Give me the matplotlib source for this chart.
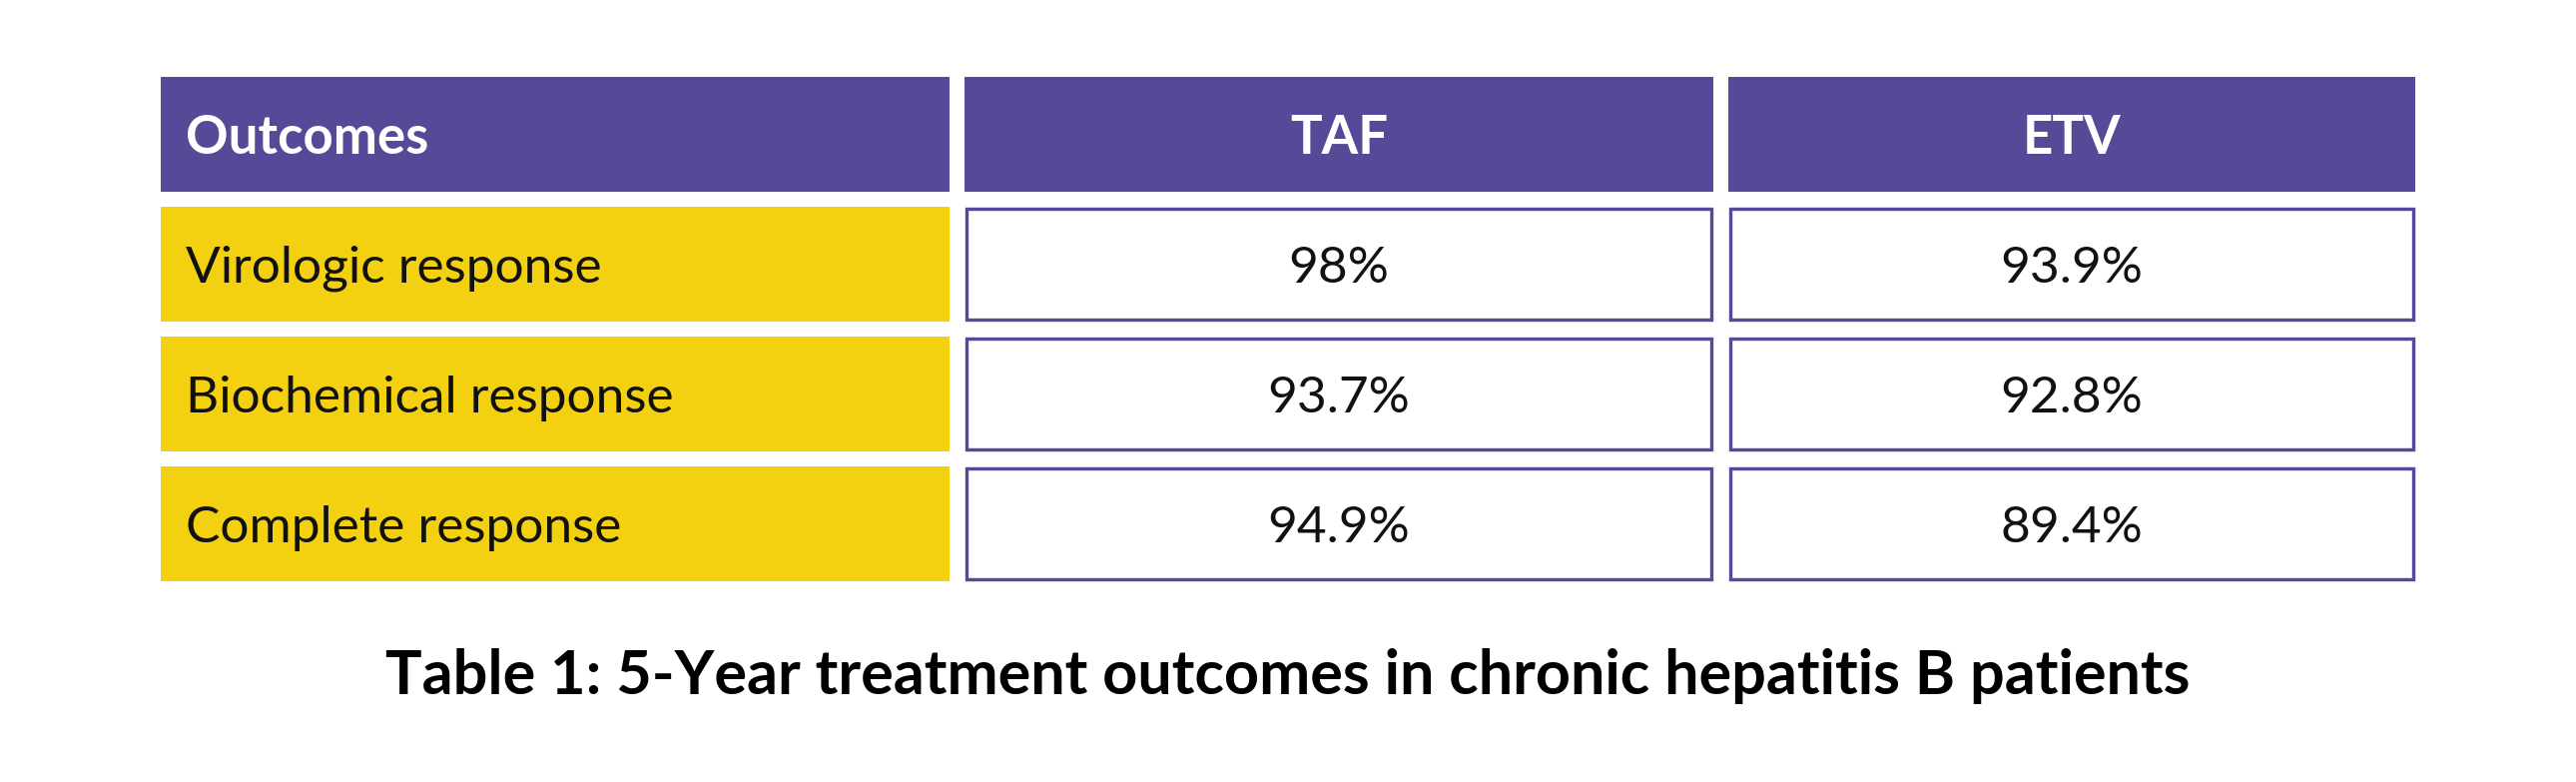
import matplotlib
matplotlib.use("Agg")
import matplotlib.pyplot as plt
from matplotlib.patches import Rectangle

# ---- data ----
columns = ["Outcomes", "TAF", "ETV"]
outcomes = ["Virologic response", "Biochemical response", "Complete response"]
taf_values = ["98%", "93.7%", "94.9%"]
etv_values = ["93.9%", "92.8%", "89.4%"]
title = "Table 1: 5-Year treatment outcomes in chronic hepatitis B patients"

# ---- style / layout (pixel units) ----
W, H = 2580, 783
PURPLE = "#554A97"
YELLOW = "#F3D110"
col_left = [161, 966, 1731]
col_width = [790, 750, 688]
header_top, header_h = 77, 115
row_top0, row_h, row_step = 207, 115, 130
pad_left = 25
border_px = 3.4
FONT = ["Lato", "DejaVu Sans"]

fig = plt.figure(figsize=(W / 100, H / 100), dpi=100)
ax = fig.add_axes([0, 0, 1, 1])
ax.set_xlim(0, W)
ax.set_ylim(H, 0)
ax.axis("off")

lw_pt = border_px * 72 / 100

# header
for j, name in enumerate(columns):
    ax.add_patch(Rectangle((col_left[j], header_top), col_width[j], header_h,
                           facecolor=PURPLE, edgecolor="none"))
    cy = header_top + header_h / 2
    if j == 0:
        ax.text(col_left[j] + pad_left, cy, name, ha="left", va="center_baseline",
                color="white", fontsize=38, fontweight="bold", family=FONT)
    else:
        ax.text(col_left[j] + col_width[j] / 2, cy, name, ha="center", va="center_baseline",
                color="white", fontsize=38, fontweight="bold", family=FONT)

# body rows
for i, label in enumerate(outcomes):
    top = row_top0 + i * row_step
    cy = top + row_h / 2
    ax.add_patch(Rectangle((col_left[0], top), col_width[0], row_h,
                           facecolor=YELLOW, edgecolor="none"))
    ax.text(col_left[0] + pad_left, cy, label, ha="left", va="center_baseline",
            color="#111111", fontsize=37, fontweight="normal", family=FONT)
    for j, vals in ((1, taf_values), (2, etv_values)):
        inset = border_px / 2
        ax.add_patch(Rectangle((col_left[j] + inset, top + inset),
                               col_width[j] - 2 * inset, row_h - 2 * inset,
                               facecolor="white", edgecolor=PURPLE, linewidth=lw_pt))
        ax.text(col_left[j] + col_width[j] / 2, cy, vals[i], ha="center", va="center_baseline",
                color="#111111", fontsize=37, fontweight="normal", family=FONT)

# caption
ax.text(W / 2, 672, title, ha="center", va="center_baseline", color="black",
        fontsize=44, fontweight="bold", family=FONT)

fig.savefig("out.png", dpi=100, facecolor="white")
